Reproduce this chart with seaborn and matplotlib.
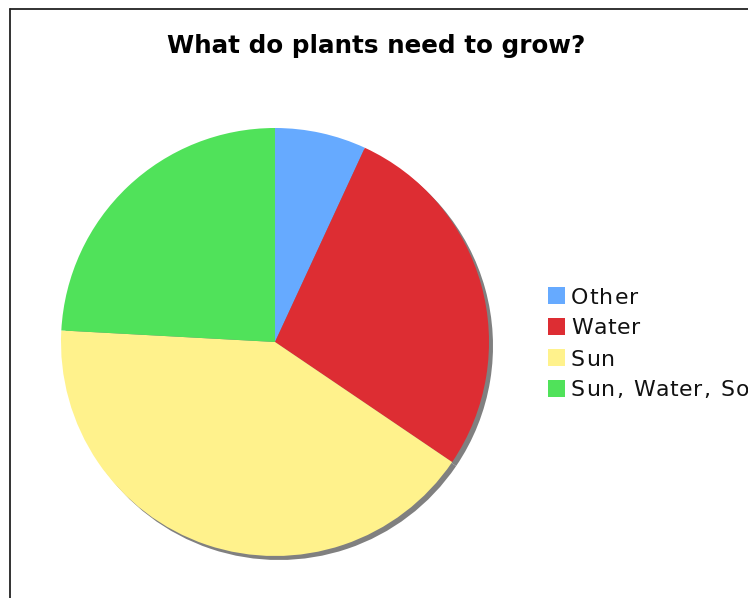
import matplotlib
matplotlib.use("Agg")
import matplotlib.pyplot as plt
import matplotlib.patches as mpatches
from matplotlib.font_manager import FontProperties
import seaborn as sns

# ---------------- DATA ----------------
categories = ["Other", "Water", "Sun", "Sun, Water, Soil"]
counts = [2, 8, 12, 7]
colors = ["#66aaff", "#dd2d33", "#fff28c", "#50e25a"]
title = "What do plants need to grow?"
# --------------------------------------

sns.set_theme(style="white")
plt.rcParams["font.family"] = ["DejaVu Sans"]

W, H = 748, 598
fig = plt.figure(figsize=(W / 100, H / 100), dpi=100)
fig.patch.set_facecolor("white")

# axes in pixel units (y measured from bottom)
ax = fig.add_axes([0, 0, 1, 1])

cx, cy, r = 275, H - 342, 214

# flat grey shadow, offset down-right
ax.pie(counts, colors=["#808080"] * len(counts), startangle=90,
       counterclock=False, center=(cx + 4, cy - 4), radius=r,
       wedgeprops=dict(linewidth=0), frame=True)
ax.pie(counts, colors=colors, startangle=90, counterclock=False,
       center=(cx, cy), radius=r, wedgeprops=dict(linewidth=0), frame=True)
ax.set_xlim(0, W)
ax.set_ylim(0, H)
ax.set_aspect("equal")
ax.axis("off")

# outer frame (only left and top edges visible)
ax.plot([10, 10], [0, H - 9], color="#222222", lw=1.3, clip_on=False)
ax.plot([10, W], [H - 9, H - 9], color="#222222", lw=1.3, clip_on=False)

ax.text(376, H - 53, title, ha="center", va="baseline",
        fontsize=17.7, fontweight="bold", color="black")

renderer = fig.canvas.get_renderer()
LEG_SIZE = 15.8
prop = FontProperties(family="DejaVu Sans", size=LEG_SIZE)


def text_w(s):
    # pixel advance of s (the trailing "x" keeps spaces counted)
    wx = renderer.get_text_width_height_descent("x", prop, ismath=False)[0]
    return renderer.get_text_width_height_descent(s + "x", prop, ismath=False)[0] - wx


def spaced_text(x, y, s, spacing):
    # legend labels use a little letter spacing, so set glyphs one by one
    for i, ch in enumerate(s):
        if ch == " ":
            continue
        ax.text(x + (text_w(s[:i]) if i else 0) + i * spacing, y, ch,
                ha="left", va="baseline", fontproperties=prop,
                color="#111111")


# legend
for i, (lab, col) in enumerate(zip(categories, colors)):
    base = H - (303.5 + i * 31)
    ax.add_patch(mpatches.Rectangle((548, base), 17, 17, color=col, lw=0))
    spaced_text(571, base, lab, 1.2)

fig.savefig("out.png", dpi=100)
